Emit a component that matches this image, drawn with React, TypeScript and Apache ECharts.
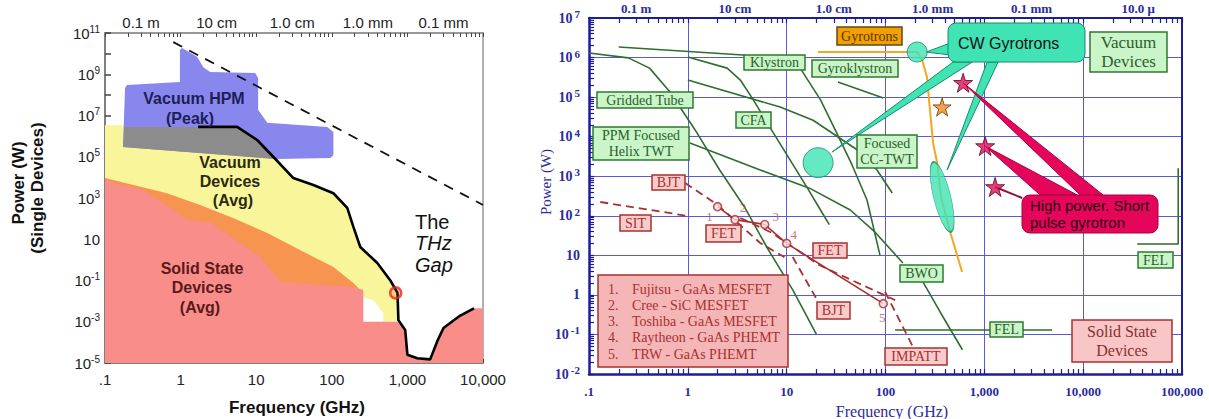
import React, { useEffect, useRef } from 'react';
import * as echarts from 'echarts';

// ================= LEFT CHART DATA (frequency GHz, power W) =================
const leftFreqTicks = [0.1, 1, 10, 100, 1000, 10000];
const leftFreqLabels = ['.1', '1', '10', '100', '1,000', '10,000'];
const leftWaveTicks = [0.3, 3, 30, 300, 3000];
const leftWaveLabels = ['0.1 m', '10 cm', '1.0 cm', '1.0 mm', '0.1 mm'];
const leftPowerTicks = [1e-5, 1e-3, 1e-1, 1e1, 1e3, 1e5, 1e7, 1e9, 1e11];

const vacuumAvg = [
  [0.1, 3.5e6], [5.6, 2.8e6], [10.3, 6.5e5], [16.8, 1e5], [31, 9.3e3], [57, 4.3e3], [105, 1.7e3],
  [160, 330], [193, 40], [238, 4.2], [400, 0.7], [595, 0.1], [740, 0.025], [760, 1e-3],
  [481, 1e-3], [481, 2.6e-3], [355, 0.011], [261, 0.016], [238, 0.035], [238, 1e-5], [0.1, 1e-5],
];
const solidStateBand = [
  [0.1, 9.3e3], [0.66, 1.7e3], [1.81, 460], [4.95, 107], [14, 20], [38, 3], [105, 0.45],
  [193, 0.075], [238, 0.035], [238, 1e-5], [0.1, 1e-5],
];
const solidStateAvg = [
  [0.1, 1e-5], [0.1, 7.4e3], [0.32, 2.4e3], [0.73, 370], [1.22, 85], [2.46, 69], [6.1, 6.6],
  [11.3, 1.4], [16.8, 0.23], [20.8, 0.085], [193, 0.048], [261, 0.035], [261, 1e-3], [800, 1e-3],
  [935, 4e-4], [1000, 2.5e-5], [1350, 1.7e-5], [2000, 1.5e-5], [2500, 1.2e-4], [3000, 5e-4],
  [5000, 2e-3], [7600, 4.5e-3], [10000, 4.5e-3], [10000, 1e-5],
];
const vacuumHpmPeak = [
  [0.173, 3e5], [0.184, 2.1e8], [0.195, 3e8], [0.98, 4.2e8], [0.98, 1.5e10], [1.05, 1.9e10],
  [1.65, 7e9], [2.0, 2.2e9], [2.46, 1.3e9], [9.7, 1.15e9], [10.6, 6.6e8], [10.6, 1.9e7],
  [14, 4.4e6], [87, 2.8e6], [105, 1.6e6], [105, 1.2e5], [96, 8.7e4], [19, 7.8e4],
];
const hpmAvgOverlap = [
  [0.18, 2.8e6], [5.6, 2.8e6], [10.3, 6.5e5], [16.8, 1e5], [17.5, 7.8e4], [0.173, 3e5],
];
const vacuumAvgLimit = [
  [1.7, 2.8e6], [5.6, 2.8e6], [10.3, 6.5e5], [16.8, 1e5], [31, 9.3e3], [57, 4.3e3], [105, 1.7e3],
  [160, 330], [193, 40], [238, 4.2], [400, 0.7], [595, 0.1], [740, 0.025], [760, 1.2e-3],
  [935, 4e-4], [1000, 2.5e-5], [1350, 1.7e-5], [2000, 1.5e-5], [2500, 1.2e-4], [3000, 5e-4],
  [5000, 2e-3], [7600, 4.5e-3],
];
const peakTrend = [[0.8, 3.6e10], [10000, 460]];
const thzMarker = [[700, 0.025]];

// ================= RIGHT CHART DATA (frequency GHz, power W) =================
const rightFreqTicks = [0.1, 1, 10, 100, 1000, 10000, 100000];
const rightFreqLabels = ['.1', '1', '10', '100', '1,000', '10,000', '100,000'];
const rightWaveTicks = [0.3, 3, 30, 300, 3000, 36000];
const rightWaveLabels = ['0.1 m', '10 cm', '1.0 cm', '1.0 mm', '0.1 mm', '10.0 μ'];
const rightPowerTicks = [1e-2, 1e-1, 1, 1e1, 1e2, 1e3, 1e4, 1e5, 1e6, 1e7];

const griddedTube = [[0.1, 1.3e6], [0.25, 9.8e5], [0.41, 5.4e5], [0.66, 1.35e5], [1.18, 1.5e4], [2.1, 1.44e3], [3.8, 157], [6.3, 16], [11.6, 1.3], [20, 0.1]];
const ppmHelixTwt = [[1.05, 6.9e3], [5.4, 1.44e3], [17, 500], [44, 140], [78, 39], [150, 6.4]];
const bwo = [[240, 2.1], [357, 0.37], [600, 0.041]];
const klystron = [[0.2, 1.85e6], [3.6, 1.16e6], [10, 8e5], [13.7, 5.4e5], [22, 8.5e4], [31, 1.48e4], [46, 1.9e3], [65, 250], [88, 10]];
const cfa = [[1.0, 1.03e6], [2.5, 5.4e5], [3.4, 2.7e5], [4.6, 8.5e4], [6.8, 1.7e4], [16, 530], [22, 140], [27, 60]];
const ccTwt = [[1.0, 2.7e5], [8.6, 5.6e4], [18.5, 2.6e4], [52, 4.6e3], [82, 1.44e3], [117, 377]];
const gyroklystron = [[33, 2.4e5], [95, 9.5e4]];
const felLow = [[125, 0.13], [4850, 0.13]];
const felHigh = [[35200, 19.4], [91600, 19.4], [91600, 1600]];
const gyrotron = [[20.8, 1.38e6], [209, 1.38e6], [235, 8.7e5], [263, 3.2e5], [282, 4.7e4], [303, 6.9e3], [333, 2.2e3], [365, 300], [451, 39], [596, 3.8]];

const cwSmall = [[209, 1.38e6]];
const cwBig = [[20.8, 2.2e3]];
const cwEllipse = [[374, 300]];
const cwPointerSmall = [[451, 2.33e6], [451, 1.16e6], [258, 1.38e6]];
const cwPointerBig = [[483, 7.7e5], [753, 7.7e5], [28.8, 4.1e3]];
const cwPointerEllipse = [[1067, 7.7e5], [1380, 7.7e5], [420, 1.44e3]];

const gyrotronStar = [[374, 5.6e4]];
const pulseStars = [[610, 2.3e5], [1019, 5.8e3], [1285, 535]];
const pulsePointer1 = [[610, 2.3e5], [9330, 336], [15900, 336]];
const pulsePointer2 = [[1019, 5.8e3], [3670, 336], [8690, 336]];
const pulsePointer3 = [[1285, 535], [2415, 282]];

const sitLine = [[0.13, 223], [1.0, 99]];
const bjtLine = [[0.94, 675], [2.0, 188], [5.4, 20.5], [9.5, 9]];
const bjtSteep = [[11.5, 9.1], [20, 0.8]];
const fetDashed = [[3.4, 88], [7.1, 37], [21.5, 5.6], [75, 1.33], [125, 0.74]];
const impattLine = [[99, 1.2], [190, 0.048]];
const fetPoints = [[2, 170], [3, 80], [6, 60], [10, 20], [95, 0.6]];
const fetPointNames = ['1', '2', '3', '4', '5'];
const fetDeviceNumbers = ['1.', '2.', '3.', '4.', '5.'];
const fetDeviceNames = ['Fujitsu - GaAs MESFET', 'Cree - SiC MESFET', 'Toshiba - GaAs MESFET', 'Raytheon - GaAs PHEMT', 'TRW - GaAs PHEMT'];

// ================= helpers =================
const SANS = '"Liberation Sans", Arial, sans-serif';
const SERIF = '"Liberation Serif", "Times New Roman", serif';
const STAR = 'path://M50,0L61.2,34.5L97.6,34.5L68.2,55.9L79.4,90.5L50,69.1L20.6,90.5L31.8,55.9L2.4,34.5L38.8,34.5Z';
const lg = Math.log10;

function decadeTicks(lo: number, hi: number, minor: boolean) {
  const out: number[] = [];
  for (let e = lo; e < hi; e++) {
    if (minor) for (let k = 1; k < 10; k++) out.push(k * Math.pow(10, e));
    else out.push(Math.pow(10, e));
  }
  out.push(Math.pow(10, hi));
  return out;
}
function tickLabel(ticks: number[], labels: string[], v: number) {
  const i = ticks.findIndex((t) => Math.abs(lg(t) - lg(v)) < 1e-4);
  return i >= 0 ? labels[i] : '';
}
function supLabel(v: number) {
  const e = Math.round(lg(v));
  if (e === 0) return '1';
  if (e === 1) return '10';
  return `10{sup|${e}}`;
}
function area(data: number[][], fill: string, xi: number, yi: number, z: number, stroke?: string) {
  return {
    type: 'custom', xAxisIndex: xi, yAxisIndex: yi, z, silent: true,
    data, encode: { x: 0, y: 1 },
    renderItem: (params: any, api: any) => {
      if (params.dataIndex !== 0) return null;
      return {
        type: 'polygon',
        shape: { points: data.map((p) => api.coord(p)) },
        style: { fill, stroke: stroke || 'none', lineWidth: stroke ? 1 : 0 },
      };
    },
  };
}
function curve(data: number[][], color: string, width: number, xi: number, yi: number, z: number, type: any = 'solid') {
  return {
    type: 'line', data, xAxisIndex: xi, yAxisIndex: yi, z, silent: true,
    showSymbol: false, symbol: 'none', lineStyle: { color, width, type },
  };
}
function txt(x: number, y: number, t: string, font: string, fill: string, align = 'center', extra: any = {}) {
  return { type: 'text', x, y, z: 30, silent: true, ...extra, style: { text: t, font, fill, align, verticalAlign: 'middle' } };
}
function box(cx: number, cy: number, w: number, h: number, t: string, font: string, fill: string, stroke: string, color: string, lineHeight = 16, r = 0) {
  return {
    type: 'group', x: cx - w / 2, y: cy - h / 2, silent: true,
    children: [
      { type: 'rect', z: 20, shape: { x: 0, y: 0, width: w, height: h, r }, style: { fill, stroke, lineWidth: 1.5 } },
      { type: 'text', z: 21, x: w / 2, y: h / 2, style: { text: t, font, fill: color, align: 'center', verticalAlign: 'middle', lineHeight } },
    ],
  };
}

const LGRAY = '#555';
const BLUE = '#1c1c9c';
const BLUE_TXT = '#2b2b9b';
const GRID_BLUE = '#5a5ad8';
const GREEN = '#2e6e2e';
const RED = '#a83030';
const TEAL = '#3fe3b4';
const TEAL_STROKE = '#1b8a6b';
const PINK = '#e5065c';

const greenBox = (cx: number, cy: number, w: number, h: number, t: string, size = 14) =>
  box(cx, cy, w, h, t, `${size}px ${SERIF}`, '#c9f5c9', '#2f7a2f', '#2a5f2a', size + 2);
const redBox = (cx: number, cy: number, w: number, h: number, t: string) =>
  box(cx, cy, w, h, t, `14px ${SERIF}`, '#f9cccc', RED, RED);

const hiddenAxis = { axisLine: { show: false }, axisLabel: { show: false }, splitLine: { show: false } };

export default function App() {
  const ref = useRef<HTMLDivElement>(null);
  useEffect(() => {
    if (!ref.current) return;
    const chart = echarts.init(ref.current, undefined, { renderer: 'svg' });

    const leftMinorX = decadeTicks(-1, 4, true);
    const leftDecY = decadeTicks(-5, 11, false);
    const rightMinorX = decadeTicks(-1, 5, true);
    const rightMinorY = decadeTicks(-2, 7, true);

    const graphicEls: any[] = [
      // left chart annotations
      txt(194, 98, 'Vacuum HPM', `bold 16px ${SANS}`, '#1e1e55'),
      txt(190, 118, '(Peak)', `bold 16px ${SANS}`, '#1e1e55'),
      txt(230, 162, 'Vacuum', `bold 16px ${SANS}`, '#2a2a12'),
      txt(230, 181, 'Devices', `bold 16px ${SANS}`, '#2a2a12'),
      txt(233, 200, '(Avg)', `bold 16px ${SANS}`, '#2a2a12'),
      txt(202, 268, 'Solid State', `bold 16px ${SANS}`, '#5a1a1a'),
      txt(202, 287, 'Devices', `bold 16px ${SANS}`, '#5a1a1a'),
      txt(200, 307, '(Avg)', `bold 16px ${SANS}`, '#5a1a1a'),
      txt(415, 222, 'The', `20px ${SANS}`, '#111', 'left'),
      txt(415, 243, 'THz', `italic 20px ${SANS}`, '#111', 'left'),
      txt(415, 265, 'Gap', `italic 20px ${SANS}`, '#111', 'left'),
      txt(18, 183, 'Power (W)', `bold 17px ${SANS}`, '#111', 'center', { rotation: Math.PI / 2 }),
      txt(37, 188, '(Single Devices)', `bold 17px ${SANS}`, '#111', 'center', { rotation: Math.PI / 2 }),
      txt(297, 407, 'Frequency (GHz)', `bold 17px ${SANS}`, '#111'),

      // right chart axis names
      txt(546, 182, 'Power (W)', `15px ${SERIF}`, BLUE_TXT, 'center', { rotation: Math.PI / 2 }),
      txt(892, 411, 'Frequency (GHz)', `16px ${SERIF}`, BLUE_TXT),

      // green vacuum device boxes
      greenBox(774.5, 62.5, 61, 15, 'Klystron'),
      greenBox(855, 68.5, 86, 17, 'Gyroklystron'),
      greenBox(645, 100, 96, 16, 'Gridded Tube'),
      greenBox(753.5, 120, 35, 16, 'CFA'),
      greenBox(641, 143.5, 96, 33, 'PPM Focused\nHelix TWT'),
      greenBox(887, 151.5, 60, 33, 'Focused\nCC-TWT'),
      greenBox(921.5, 273.5, 43, 17, 'BWO'),
      greenBox(1006.5, 329.5, 33, 15, 'FEL'),
      greenBox(1155.5, 260, 35, 16, 'FEL'),
      greenBox(1128.5, 52, 77, 40, 'Vacuum\nDevices', 17),
      box(869.5, 36, 65, 18, 'Gyrotrons', `14px ${SERIF}`, '#f2a000', '#5e4a1a', '#5a3500'),

      // callouts
      {
        type: 'group', x: 948, y: 23, silent: true,
        children: [
          { type: 'rect', z: 20, shape: { x: 0, y: 0, width: 137, height: 39, r: 8 }, style: { fill: TEAL, stroke: TEAL_STROKE, lineWidth: 1 } },
          { type: 'text', z: 21, x: 10, y: 20, style: { text: 'CW Gyrotrons', font: `16px ${SANS}`, fill: '#111', align: 'left', verticalAlign: 'middle' } },
        ],
      },
      {
        type: 'group', x: 1022, y: 195, silent: true,
        children: [
          { type: 'rect', z: 20, shape: { x: 0, y: 0, width: 136, height: 38, r: 8 }, style: { fill: PINK, stroke: '#a8003c', lineWidth: 1 } },
          { type: 'text', z: 21, x: 8, y: 10, style: { text: 'High power. Short', font: `15px ${SANS}`, fill: '#2a0010', align: 'left', verticalAlign: 'middle' } },
          { type: 'text', z: 21, x: 8, y: 27, style: { text: 'pulse gyrotron', font: `15px ${SANS}`, fill: '#2a0010', align: 'left', verticalAlign: 'middle' } },
        ],
      },

      // red solid state boxes
      redBox(668.5, 182.5, 33, 15, 'BJT'),
      redBox(635.5, 223, 31, 16, 'SIT'),
      redBox(723.5, 233.5, 35, 17, 'FET'),
      redBox(830, 250.5, 34, 15, 'FET'),
      redBox(833.5, 310.5, 33, 17, 'BJT'),
      redBox(916, 356.5, 62, 17, 'IMPATT'),
      box(1122, 341, 100, 42, 'Solid State\nDevices', `16px ${SERIF}`, '#f8c6c6', RED, '#8a3030', 19),
      {
        type: 'group', x: 598, y: 275, silent: true,
        children: [
          { type: 'rect', z: 20, shape: { x: 0, y: 0, width: 190, height: 92 }, style: { fill: '#f4b6b6', stroke: RED, lineWidth: 1.5 } },
          ...fetDeviceNames.flatMap((n, i) => [
            { type: 'text', z: 21, x: 10, y: 14 + i * 16.3, style: { text: fetDeviceNumbers[i], font: `14px ${SERIF}`, fill: RED, align: 'left', verticalAlign: 'middle' } },
            { type: 'text', z: 21, x: 34, y: 14 + i * 16.3, style: { text: n, font: `14px ${SERIF}`, fill: RED, align: 'left', verticalAlign: 'middle' } },
          ]),
        ],
      },
    ];

    const option: any = {
      animation: false,
      grid: [
        { left: 105, top: 33, width: 378, height: 330, containLabel: false, outerBoundsMode: 'none' },
        { left: 589, top: 18, width: 593, height: 356, containLabel: false, outerBoundsMode: 'none' },
      ],
      xAxis: [
        {
          type: 'log', gridIndex: 0, min: 0.1, max: 10000, position: 'bottom',
          axisLine: { show: true, lineStyle: { color: LGRAY, width: 1.5 } },
          axisTick: { show: true, inside: true, length: 4, customValues: leftMinorX, lineStyle: { color: '#444' } },
          axisLabel: { customValues: leftFreqTicks, formatter: (v: number) => tickLabel(leftFreqTicks, leftFreqLabels, v), margin: 9, fontSize: 15, fontFamily: SANS, color: '#222' },
          splitLine: { show: false },
        },
        {
          type: 'log', gridIndex: 0, min: 0.1, max: 10000, position: 'top',
          axisLine: { show: true, lineStyle: { color: '#777', width: 1.5 } },
          axisTick: { show: true, inside: true, length: 4, customValues: leftMinorX, lineStyle: { color: '#444' } },
          axisLabel: { customValues: leftWaveTicks, formatter: (v: number) => tickLabel(leftWaveTicks, leftWaveLabels, v), margin: 3, fontSize: 15, fontFamily: SANS, color: '#222' },
          splitLine: { show: false },
        },
        {
          // right chart main frequency axis: labels + decade grid lines
          type: 'log', gridIndex: 1, min: 0.1, max: 100000, position: 'bottom', splitNumber: 6,
          axisLine: { show: true, lineStyle: { color: BLUE, width: 2.5 } },
          axisTick: { show: false },
          axisLabel: { customValues: rightFreqTicks, formatter: (v: number) => tickLabel(rightFreqTicks, rightFreqLabels, v), margin: 11, fontSize: 13, fontWeight: 'bold', fontFamily: SERIF, color: BLUE_TXT },
          splitLine: { show: true, lineStyle: { color: GRID_BLUE, width: 1 } },
        },
        {
          type: 'log', gridIndex: 1, min: 0.1, max: 100000, position: 'top',
          axisLine: { show: true, lineStyle: { color: BLUE, width: 2 } },
          axisTick: { show: true, inside: true, length: 5, customValues: rightMinorX, lineStyle: { color: BLUE, width: 1.2 } },
          axisLabel: { customValues: rightWaveTicks, formatter: (v: number) => tickLabel(rightWaveTicks, rightWaveLabels, v), margin: 3, fontSize: 13, fontWeight: 'bold', fontFamily: SERIF, color: BLUE_TXT },
          splitLine: { show: false },
        },
        {
          // right chart minor ticks along the bottom
          type: 'log', gridIndex: 1, min: 0.1, max: 100000, position: 'bottom', ...hiddenAxis,
          axisTick: { show: true, inside: true, length: 5, customValues: rightMinorX, lineStyle: { color: BLUE, width: 1.2 } },
        },
      ],
      yAxis: [
        {
          type: 'log', gridIndex: 0, min: 1e-5, max: 1e11, position: 'left',
          axisLine: { show: true, lineStyle: { color: LGRAY, width: 1.5 } },
          axisTick: { show: true, inside: true, length: 6, customValues: leftDecY, lineStyle: { color: '#444', width: 1.5 } },
          axisLabel: {
            customValues: leftPowerTicks, formatter: supLabel, margin: 5, fontSize: 15, fontFamily: SANS, color: '#222',
            rich: { sup: { fontSize: 10, verticalAlign: 'top', fontFamily: SANS, color: '#222', padding: [0, 0, 8, 0] } },
          },
          splitLine: { show: false },
        },
        {
          type: 'log', gridIndex: 0, min: 1e-5, max: 1e11, position: 'right',
          axisLine: { show: true, lineStyle: { color: '#999', width: 1.5 } },
          axisTick: { show: false }, axisLabel: { show: false }, splitLine: { show: false },
        },
        {
          // right chart main power axis: labels + decade grid lines
          type: 'log', gridIndex: 1, min: 1e-2, max: 1e7, position: 'left', splitNumber: 9,
          axisLine: { show: true, lineStyle: { color: BLUE, width: 2.5 } },
          axisTick: { show: false },
          axisLabel: {
            customValues: rightPowerTicks, formatter: supLabel, margin: 9, fontSize: 14, fontWeight: 'bold', fontFamily: SERIF, color: BLUE_TXT,
            rich: { sup: { fontSize: 11, fontWeight: 'bold', verticalAlign: 'top', fontFamily: SERIF, color: BLUE_TXT, padding: [0, 0, 8, 2] } },
          },
          splitLine: { show: true, lineStyle: { color: GRID_BLUE, width: 1 } },
        },
        {
          type: 'log', gridIndex: 1, min: 1e-2, max: 1e7, position: 'right',
          axisLine: { show: true, lineStyle: { color: BLUE, width: 2 } },
          axisTick: { show: false }, axisLabel: { show: false }, splitLine: { show: false },
        },
        {
          // right chart minor ticks along the left edge
          type: 'log', gridIndex: 1, min: 1e-2, max: 1e7, position: 'left', ...hiddenAxis,
          axisTick: { show: true, inside: true, length: 5, customValues: rightMinorY, lineStyle: { color: BLUE, width: 1.2 } },
        },
      ],
      series: [
        // left chart regions
        area(vacuumAvg, '#f9f59a', 0, 0, 1),
        area(solidStateBand, '#f7944f', 0, 0, 2),
        area(solidStateAvg, '#f88d8a', 0, 0, 3),
        area(vacuumHpmPeak, '#8787ee', 0, 0, 4),
        area(hpmAvgOverlap, '#8c8c8c', 0, 0, 5),
        curve(vacuumAvgLimit, '#000', 2.6, 0, 0, 6),
        curve(peakTrend, '#111', 1.8, 0, 0, 6, [10, 8]),
        {
          type: 'scatter', xAxisIndex: 0, yAxisIndex: 0, z: 7, silent: true, data: thzMarker,
          symbol: 'circle', symbolSize: 11, itemStyle: { color: 'rgba(240,60,40,0.25)', borderColor: '#e02a20', borderWidth: 2.5 },
        },

        // right chart vacuum device curves
        curve(griddedTube, GREEN, 1.6, 2, 2, 3),
        curve(ppmHelixTwt, GREEN, 1.6, 2, 2, 3),
        curve(bwo, GREEN, 1.6, 2, 2, 3),
        curve(klystron, GREEN, 1.6, 2, 2, 3),
        curve(cfa, GREEN, 1.6, 2, 2, 3),
        curve(ccTwt, GREEN, 1.6, 2, 2, 3),
        curve(gyroklystron, GREEN, 1.6, 2, 2, 3),
        curve(felLow, GREEN, 1.6, 2, 2, 3),
        curve(felHigh, GREEN, 1.6, 2, 2, 3),
        curve(gyrotron, '#f5a623', 2, 2, 2, 4),

        // solid state lines
        curve(sitLine, RED, 1.8, 2, 2, 4, [8, 5]),
        curve(bjtLine, RED, 1.8, 2, 2, 4, [8, 5]),
        curve(bjtSteep, RED, 1.8, 2, 2, 4, [8, 5]),
        curve(fetDashed, RED, 1.8, 2, 2, 4, [8, 5]),
        curve(impattLine, RED, 1.8, 2, 2, 4, [8, 5]),
        curve(fetPoints, RED, 1.6, 2, 2, 4),
        {
          type: 'scatter', xAxisIndex: 2, yAxisIndex: 2, z: 5, silent: true,
          data: fetPoints.map((p, i) => ({
            value: p, name: fetPointNames[i],
            label: { offset: [[-8, 10], [8, -12], [11, -8], [7, -9], [-1, 14]][i] },
          })),
          symbol: 'circle', symbolSize: 8, itemStyle: { color: '#fbe0e0', borderColor: RED, borderWidth: 1.6 },
          label: { show: true, position: 'inside', formatter: '{b}', fontSize: 13, fontFamily: SERIF, color: '#b55050' },
        },

        // CW gyrotron callout pointers and markers
        area(cwPointerSmall, TEAL, 2, 2, 6, TEAL_STROKE),
        area(cwPointerBig, TEAL, 2, 2, 6, TEAL_STROKE),
        area(cwPointerEllipse, TEAL, 2, 2, 6, TEAL_STROKE),
        {
          type: 'scatter', xAxisIndex: 2, yAxisIndex: 2, z: 7, silent: true, data: cwSmall,
          symbol: 'circle', symbolSize: 20, itemStyle: { color: TEAL, borderColor: TEAL_STROKE, borderWidth: 1 },
        },
        {
          type: 'scatter', xAxisIndex: 2, yAxisIndex: 2, z: 7, silent: true, data: cwBig,
          symbol: 'circle', symbolSize: 30, itemStyle: { color: TEAL, borderColor: TEAL_STROKE, borderWidth: 1 },
        },
        {
          type: 'scatter', xAxisIndex: 2, yAxisIndex: 2, z: 7, silent: true, data: cwEllipse,
          symbol: 'circle', symbolSize: [17, 72], symbolRotate: 14, itemStyle: { color: TEAL, borderColor: TEAL_STROKE, borderWidth: 1 },
        },

        // pulse gyrotron pointers and stars
        area(pulsePointer1, PINK, 2, 2, 6, '#a8003c'),
        area(pulsePointer2, PINK, 2, 2, 6, '#a8003c'),
        curve(pulsePointer3, '#8a1040', 2, 2, 2, 6),
        {
          type: 'scatter', xAxisIndex: 2, yAxisIndex: 2, z: 8, silent: true, data: pulseStars,
          symbol: STAR, symbolSize: 19, itemStyle: { color: '#e0105a', borderColor: '#5a0020', borderWidth: 1 },
        },
        {
          type: 'scatter', xAxisIndex: 2, yAxisIndex: 2, z: 8, silent: true, data: gyrotronStar,
          symbol: STAR, symbolSize: 18, itemStyle: { color: '#f08a20', borderColor: '#6a3a00', borderWidth: 1 },
        },
      ],
      graphic: { elements: graphicEls },
    };

    chart.setOption(option);
    return () => chart.dispose();
  }, []);

  return <div ref={ref} style={{ position: 'fixed', left: 0, top: 0, width: 1209, height: 419, background: '#fff' }} />;
}
